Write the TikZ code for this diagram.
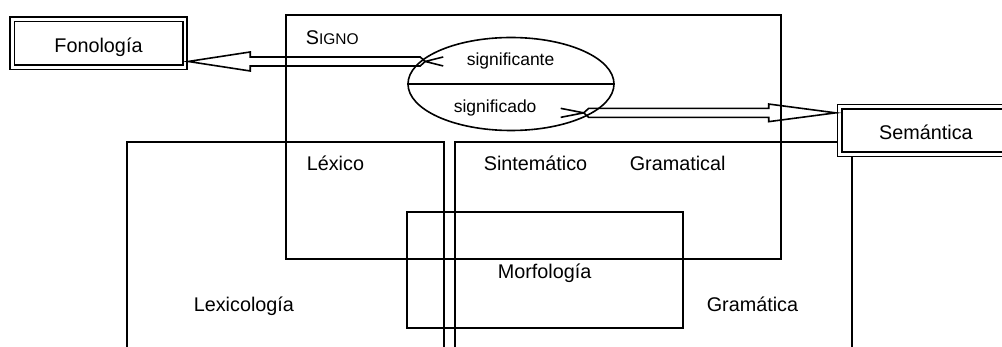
\documentclass[tikz,border=0pt]{standalone}
\usepackage{fontspec}
\setmainfont{Liberation Sans}
\usetikzlibrary{shapes.geometric}

\tikzset{
  caja/.style={draw, double, double distance=2.8pt, line width=1.6pt, fill=white,
    minimum width=172.8pt, minimum height=47.7pt, text height=18pt, text depth=0pt,
    font=\fontsize{19.8}{24}\selectfont},
  rotulo/.style={anchor=base west, inner sep=0pt, font=\fontsize{19.8}{24}\selectfont},
  menor/.style={anchor=base west, inner sep=0pt, font=\fontsize{17.5}{21}\selectfont},
  hueca/.style={line width=1.6pt, line join=miter},
}

\begin{document}
\begin{tikzpicture}[x=1pt, y=-1pt, line width=1.6pt]
	\useasboundingbox (0,0) rectangle (1002,347);
	\clip (0,0) rectangle (1002,347);

	%% Frames -- the two big ones run off the bottom
	\draw (127,350) |- (444,142.3) -- (444,350);	% Lexicologia
	\draw (455,350) |- (852,142.3) -- (852,350);	% Gramatica
	\draw (286,15) rectangle (781,259);		% Signo
	\draw (407,212.3) rectangle (683,328.3);	% Morfologia

	%% Labels of the frames
	\node at (305,45) [rotulo] (signo) {S{\fontsize{15.5}{18}\selectfont IGNO}};
	\node at (306,171) [rotulo] (lexico) {Léxico};
	\node at (483,171) [rotulo] (sintem) {Sintemático};
	\node at (629,171) [rotulo] (gramcal) {Gramatical};
	\node at (193,311.5) [rotulo] (lexlog) {Lexicología};
	\node at (497,278.3) [rotulo] (morfo) {Morfología};
	\node at (706,311.5) [rotulo] (grama) {Gramática};

	%% The sign, cut in two halves
	\node at (511,84) [draw, ellipse, minimum width=206pt, minimum height=93pt] (sig) {};
	\draw (sig.west) -- (sig.east);
	\node at (466,66) [menor] (sgte) {significante};
	\node at (453,112.7) [menor] (sgdo) {significado};

	%% Boxes at both ends
	\node at (98.5,43.35) [caja] (fono) {Fonología};	% Called `fono'
	\node at (925.9,130.65) [caja] (sem) {Semántica};	% Called `sem'

	%% Hollow arrows
	\coordinate (fonotip) at ([xshift=2.5pt]fono.east |- sgte.center);
	\draw [hueca] (fonotip) -- ++(62,-9.5) -- ++(0,5) -- ++(170,0) -- ++(5,4.5)
		-- ++(-5,4.5) -- ++(-170,0) -- ++(0,5) -- cycle;
	\draw [hueca] ([xshift=237pt]fonotip) -- ++(18,-4.5) ++(-18,4.5) -- ++(18,4.5);	% tail

	\coordinate (semtip) at ([shift={(-3,-17.8)}]sem.west);
	\draw [hueca] (semtip) -- ++(-67,-8.8) -- ++(0,4.3) -- ++(-180,0) -- ++(-5,4.5)
		-- ++(5,4.5) -- ++(180,0) -- ++(0,4.3) -- cycle;
	\draw [hueca] ([xshift=-252pt]semtip) -- ++(-23,-4.5) ++(23,4.5) -- ++(-23,4.5);	% tail
\end{tikzpicture}
\end{document}
